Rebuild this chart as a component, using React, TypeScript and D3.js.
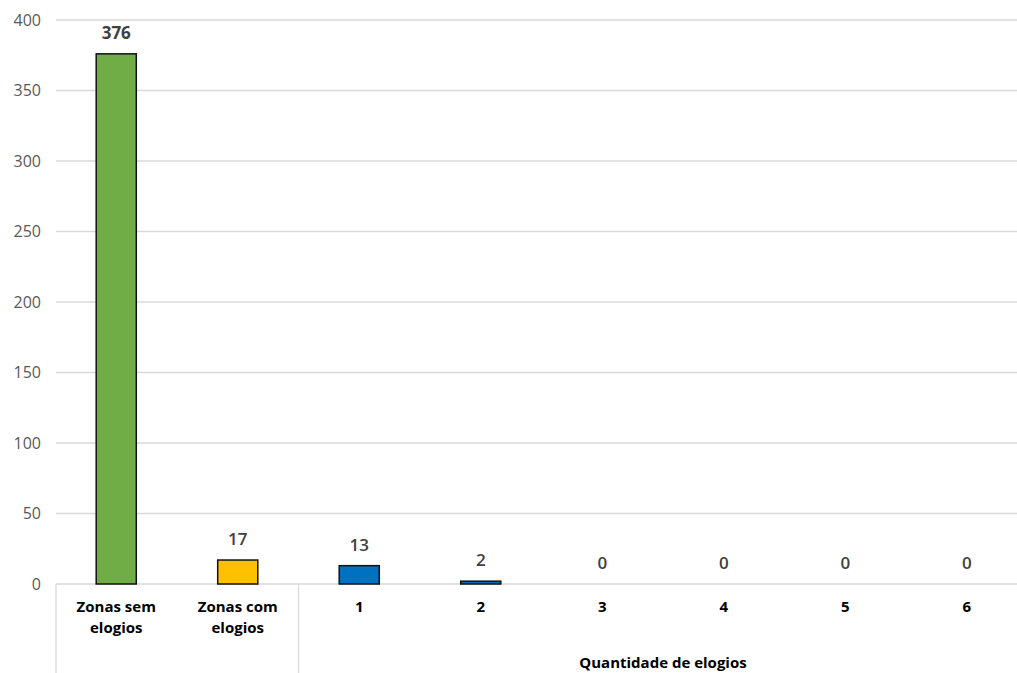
import React from "react";
import * as d3 from "d3";

const categories = ["Zonas sem\nelogios", "Zonas com\nelogios", "1", "2", "3", "4", "5", "6"];
const values = [376, 17, 13, 2, 0, 0, 0, 0];
const barColors = ["#70AD47", "#FFC000", "#0070C0", "#0070C0", "#0070C0", "#0070C0", "#0070C0", "#0070C0"];
const yTicks = [0, 50, 100, 150, 200, 250, 300, 350, 400];
const groupTitle = "Quantidade de elogios";

const W = 1017;
const H = 673;
const FONT = "'Open Sans', 'Liberation Sans', sans-serif";

export default function App() {
  const x = d3.scaleBand<string>().domain(categories).range([55.5, 1027.5]).paddingInner(0.67).paddingOuter(0.335);
  const y = d3.scaleLinear().domain([0, 400]).range([584, 20]);
  const groupStart = x(categories[2])! - (x.step() * x.paddingInner()) / 2;
  const axisLeft = 56;

  return (
    <svg width={W} height={H} style={{ position: "absolute", left: 0, top: 0, background: "#fff" }}>
      {yTicks.map((t) => (
        <g key={t}>
          <line x1={axisLeft} x2={W} y1={y(t)} y2={y(t)} stroke="#d9d9d9" strokeWidth={1.3} />
          <text x={41} y={y(t)} dy="0.35em" textAnchor="end" fontFamily={FONT} fontSize={16} fill="#595959">
            {t}
          </text>
        </g>
      ))}
      {/* multi-level category axis borders */}
      <line x1={axisLeft} x2={axisLeft} y1={584} y2={H} stroke="#d9d9d9" strokeWidth={1.3} />
      <line x1={groupStart} x2={groupStart} y1={584} y2={H} stroke="#d9d9d9" strokeWidth={1.3} />
      {values.map((v, i) => {
        const cx = x(categories[i])! + x.bandwidth() / 2;
        return (
          <g key={i}>
            {v > 0 && (
              <rect
                x={x(categories[i])}
                y={y(v)}
                width={x.bandwidth()}
                height={y(0) - y(v)}
                fill={barColors[i]}
                stroke="#111"
                strokeWidth={1.5}
              />
            )}
            <text
              x={cx}
              y={y(v) - 15}
              textAnchor="middle"
              fontFamily={FONT}
              fontSize={17}
              fontWeight={i === 0 ? 700 : 600}
              fill="#404040"
            >
              {v}
            </text>
            <text x={cx} y={612} textAnchor="middle" fontFamily={FONT} fontSize={15} fontWeight={700} fill="#000">
              {categories[i].split("\n").map((ln, k) => (
                <tspan key={k} x={cx} dy={k === 0 ? 0 : 21}>
                  {ln}
                </tspan>
              ))}
            </text>
          </g>
        );
      })}
      <text
        x={(x(categories[2])! + x(categories[7])! + x.bandwidth()) / 2}
        y={668}
        textAnchor="middle"
        fontFamily={FONT}
        fontSize={15}
        fontWeight={700}
        fill="#000"
      >
        {groupTitle}
      </text>
    </svg>
  );
}
